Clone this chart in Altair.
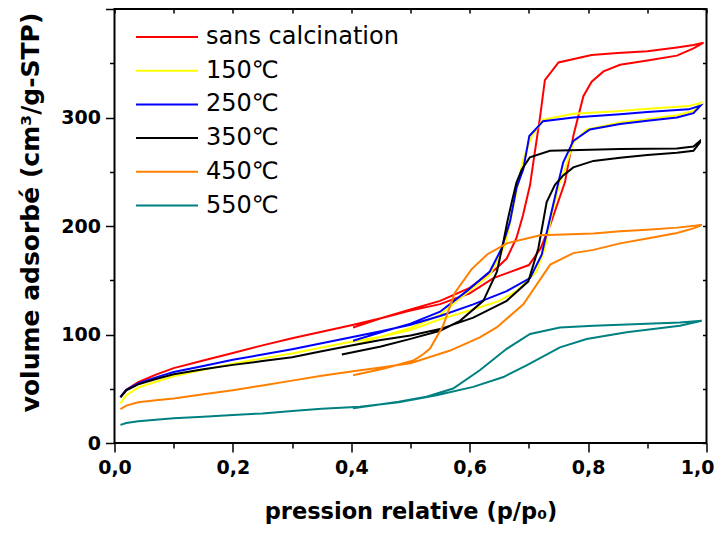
import altair as alt
import pandas as pd

series_names = ["sans calcination", "150℃", "250℃", "350℃", "450℃", "550℃"]
series_colors = ["#ff0000", "#ffff00", "#0000ff", "#000000", "#ff8000", "#008080"]

# sans calcination
red_ads_p = [0.01, 0.02, 0.04, 0.07, 0.10, 0.15, 0.20, 0.25, 0.30, 0.35, 0.40, 0.45, 0.50, 0.55, 0.60, 0.64, 0.70, 0.72, 0.736, 0.761, 0.775, 0.792, 0.806, 0.826, 0.854, 0.90, 0.95, 0.978, 0.995]
red_ads_v = [42.6, 49, 56, 63, 69, 76, 83, 90, 96.5, 102.5, 108.5, 115, 122, 128, 138, 152, 164, 179.5, 201, 240.5, 283, 319.6, 333, 342.5, 348.6, 352.5, 357, 363.7, 369]
red_des_p = [0.995, 0.978, 0.95, 0.90, 0.85, 0.806, 0.75, 0.727, 0.719, 0.71, 0.702, 0.69, 0.679, 0.6625, 0.643, 0.60, 0.55, 0.50, 0.45, 0.403]
red_des_v = [369, 366.8, 364.5, 361, 359.5, 357.6, 350.7, 334.5, 301, 268, 238, 210, 189, 170, 160, 143, 131, 123, 115, 106.5]

# 150
yel_ads_p = [0.01, 0.02, 0.04, 0.07, 0.10, 0.15, 0.20, 0.25, 0.30, 0.35, 0.40, 0.45, 0.50, 0.55, 0.606, 0.65, 0.679, 0.713, 0.727, 0.7385, 0.752, 0.761, 0.775, 0.798, 0.854, 0.90, 0.95, 0.978, 0.99]
yel_ads_v = [36.5, 44, 51, 56.5, 61.5, 67.5, 73, 78, 82.5, 88, 93.4, 98, 104, 114, 123, 131, 140, 158, 179.5, 210, 240, 252.6, 277, 289, 295.5, 298.5, 302, 306, 313.5]
yel_des_p = [0.99, 0.97, 0.90, 0.854, 0.775, 0.724, 0.705, 0.6906, 0.682, 0.671, 0.66, 0.634, 0.578, 0.55, 0.50, 0.45, 0.403]
yel_des_v = [313.5, 310.5, 308, 306, 303.5, 298, 283, 261.7, 240, 210, 182.6, 155, 131, 118, 106, 98, 89.8]

# 250
blu_ads_p = [0.01, 0.02, 0.04, 0.07, 0.10, 0.15, 0.20, 0.25, 0.30, 0.35, 0.40, 0.45, 0.50, 0.55, 0.606, 0.6625, 0.702, 0.7216, 0.7356, 0.7497, 0.758, 0.775, 0.803, 0.854, 0.90, 0.95, 0.978, 0.99]
blu_ads_v = [42.6, 49, 55, 60.5, 65.4, 71, 76.7, 81.5, 86.5, 92, 97.4, 103, 109, 117, 127.8, 140, 152, 173.5, 207, 240, 258.7, 278.5, 289, 294, 297, 300, 304, 311]
blu_des_p = [0.99, 0.97, 0.90, 0.854, 0.775, 0.724, 0.7007, 0.6906, 0.679, 0.668, 0.654, 0.634, 0.595, 0.55, 0.50, 0.45, 0.403]
blu_des_v = [311, 307.5, 305, 303, 300, 296.6, 283, 252.6, 235, 204, 179.5, 158, 140, 121, 110, 102, 94.3]

# 350
blk_ads_p = [0.01, 0.02, 0.04, 0.07, 0.10, 0.15, 0.20, 0.25, 0.30, 0.35, 0.40, 0.45, 0.50, 0.55, 0.606, 0.6625, 0.699, 0.716, 0.730, 0.744, 0.758, 0.775, 0.809, 0.854, 0.90, 0.95, 0.978, 0.989]
blk_ads_v = [42, 48.5, 54, 59, 63.3, 68, 72, 75.5, 79, 84.5, 89.8, 95, 99, 105, 115.6, 131, 149, 179.5, 222, 238, 246.6, 254, 260, 263, 265.5, 267.5, 269.4, 277]
blk_des_p = [0.989, 0.978, 0.95, 0.854, 0.7356, 0.7016, 0.688, 0.679, 0.671, 0.664, 0.657, 0.646, 0.623, 0.5836, 0.55, 0.50, 0.45, 0.384]
blk_des_v = [278.5, 273.3, 271.5, 271, 269.4, 263.3, 252, 240, 222, 205, 185.7, 158, 131, 112.6, 103.5, 96, 89, 81.5]

# 450
org_ads_p = [0.01, 0.02, 0.04, 0.07, 0.10, 0.15, 0.20, 0.25, 0.30, 0.35, 0.40, 0.45, 0.50, 0.567, 0.617, 0.6456, 0.6906, 0.736, 0.775, 0.809, 0.854, 0.90, 0.95, 0.978, 0.992]
org_ads_v = [31.3, 34.5, 37.5, 39.5, 41, 45, 48.7, 53, 57.5, 62, 66, 69.5, 73.5, 85.2, 97.4, 106.5, 127.8, 164.4, 175, 178, 184, 188.5, 193.5, 197.8, 200.9]
org_des_p = [0.992, 0.95, 0.90, 0.854, 0.809, 0.719, 0.6625, 0.63, 0.603, 0.575, 0.555, 0.533, 0.522, 0.5047, 0.454, 0.403]
org_des_v = [200.9, 198.5, 196.5, 195.2, 193, 191.5, 184, 174, 160, 138.5, 108, 87, 82, 76, 68.5, 62.4]

# 550
tea_ads_p = [0.01, 0.02, 0.04, 0.07, 0.10, 0.15, 0.20, 0.25, 0.30, 0.35, 0.4147, 0.48, 0.544, 0.606, 0.657, 0.696, 0.7525, 0.7976, 0.865, 0.955, 0.992]
tea_ads_v = [16.7, 18.5, 20, 21.5, 22.8, 24.3, 25.8, 27.3, 29.5, 31.5, 33.4, 37.5, 44.1, 51.7, 60.8, 71.5, 88.2, 95.9, 102, 108, 112.6]
tea_des_p = [0.992, 0.955, 0.809, 0.7525, 0.702, 0.6625, 0.617, 0.572, 0.527, 0.48, 0.403]
tea_des_v = [112.6, 111, 108, 106.5, 100.5, 86.8, 67, 50.2, 42.6, 38, 32]

x_ticks = [0.0, 0.1, 0.2, 0.3, 0.4, 0.5, 0.6, 0.7, 0.8, 0.9, 1.0]
y_ticks = [0, 50, 100, 150, 200, 250, 300, 350, 400]

branches = [
    (series_names[0], red_ads_p, red_ads_v, red_des_p, red_des_v),
    (series_names[1], yel_ads_p, yel_ads_v, yel_des_p, yel_des_v),
    (series_names[2], blu_ads_p, blu_ads_v, blu_des_p, blu_des_v),
    (series_names[3], blk_ads_p, blk_ads_v, blk_des_p, blk_des_v),
    (series_names[4], org_ads_p, org_ads_v, org_des_p, org_des_v),
    (series_names[5], tea_ads_p, tea_ads_v, tea_des_p, tea_des_v),
]
rows = []
for name, ap, av, dp, dv in branches:
    k = 0
    for p, v in zip(ap + dp, av + dv):
        rows.append({"series": name, "p": p, "v": v, "k": k})
        k += 1
df = pd.DataFrame(rows)

W, H = 592, 434
FONT = "DejaVu Sans"

xscale = alt.Scale(domain=[0, 1], nice=False, zero=False)
yscale = alt.Scale(domain=[0, 400], nice=False)

frame = alt.Chart(df).mark_point(opacity=0).encode(
    x=alt.X("p:Q", scale=xscale, axis=alt.Axis(
        orient="bottom", offset=-H, values=x_ticks, labels=False, tickSize=4,
        tickWidth=1.5, tickColor="black", domain=False, grid=False, title=None)),
    y=alt.Y("v:Q", scale=yscale, axis=alt.Axis(
        orient="left", offset=-W, values=y_ticks, labels=False, tickSize=4,
        tickWidth=1.5, tickColor="black", domain=False, grid=False, title=None)),
)

lines = alt.Chart(df).mark_line(strokeWidth=2).encode(
    x=alt.X("p:Q", scale=xscale, axis=alt.Axis(
        orient="bottom", values=x_ticks, grid=False, domain=False,
        labelExpr="round(datum.value*10) % 2 == 0 ? replace(format(datum.value, '.1f'), '.', ',') : ''",
        tickSize={"condition": {"test": "round(datum.value*10) % 2 == 0", "value": 9}, "value": 5},
        tickWidth=1.5, tickColor="black",
        labelFont=FONT, labelFontWeight="bold", labelFontSize=19, labelColor="black",
        labelAlign={"condition": {"test": "datum.value >= 0.99", "value": "right"}, "value": "center"},
        labelOffset={"condition": {"test": "datum.value >= 0.99", "value": 7.5}, "value": 0},
        labelPadding=6, labelOverlap=False, labelFlush=False,
        title="pression relative (p/p₀)", titleFont=FONT, titleFontWeight="bold",
        titleFontSize=22.5, titleColor="black", titleBaseline="alphabetic", titleY=75)),
    y=alt.Y("v:Q", scale=yscale, axis=alt.Axis(
        orient="left", values=y_ticks, grid=False, domain=False,
        labelExpr="datum.value % 100 == 0 && datum.value < 400 ? format(datum.value, 'd') : ''",
        tickSize={"condition": {"test": "datum.value % 100 == 0", "value": 9}, "value": 5},
        tickWidth=1.5, tickColor="black",
        labelFont=FONT, labelFontWeight="bold", labelFontSize=19, labelColor="black",
        labelPadding=5, labelOverlap=False, labelFlush=False,
        title="volume adsorbé (cm³/g-STP)", titleFont=FONT, titleFontWeight="bold",
        titleFontSize=25, titleColor="black", titleBaseline="alphabetic",
        titleX=-76, titleY=203, titleAngle=270)),
    color=alt.Color("series:N", scale=alt.Scale(domain=series_names, range=series_colors),
                    legend=alt.Legend(title=None, orient="none", legendX=40.5, legendY=16,
                                      symbolType="M-31,0H31", symbolSize=4, symbolStrokeWidth=2,
                                      labelFont=FONT, labelFontSize=24, labelColor="black",
                                      labelOffset=27, rowPadding=9.7, padding=0, labelLimit=0)),
    order="k:Q",
)

chart = alt.layer(frame, lines).resolve_axis(x="independent", y="independent").properties(
    width=W, height=H,
    autosize=alt.AutoSizeParams(type="none"),
    padding={"left": 106.5, "top": 1, "right": 8.5, "bottom": 82},
).configure_view(stroke="black", strokeWidth=2)

chart.save("out.html", embed_options={"renderer": "svg", "actions": False})
